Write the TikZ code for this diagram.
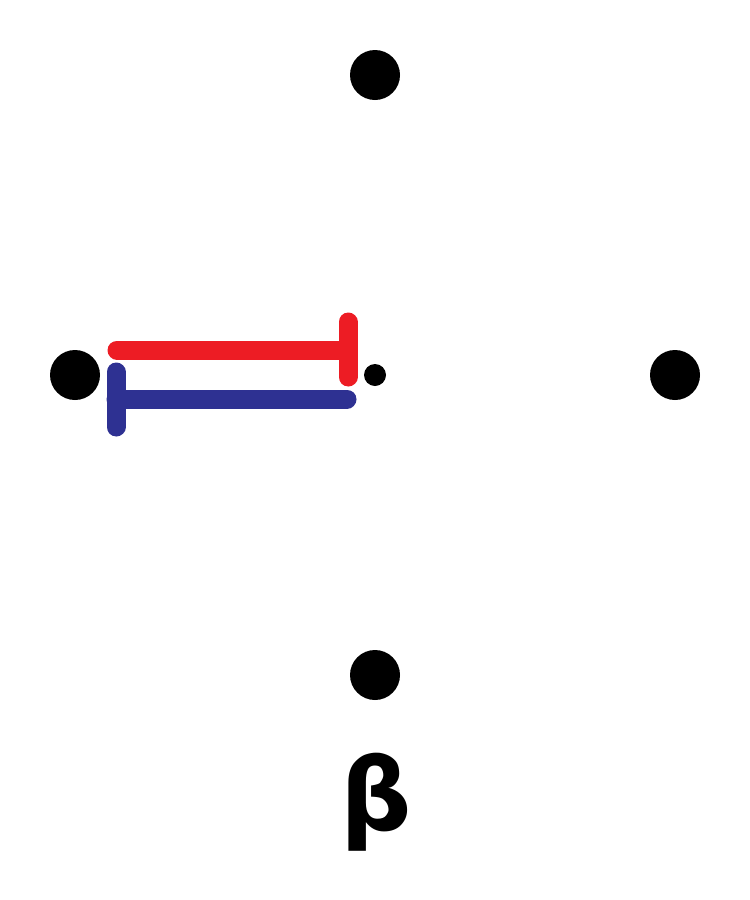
\documentclass[tikz,border=0pt]{standalone}
\usepackage{fontspec}
\newfontfamily\betafont{DejaVu Sans}
\definecolor{myred}{HTML}{ED1C24}
\definecolor{myblue}{HTML}{2E3192}
\begin{document}
\begin{tikzpicture}[x=1pt,y=-1pt,
  bigdot/.style={circle,fill=black,minimum size=50pt,inner sep=0pt},
  smalldot/.style={circle,fill=black,minimum size=22pt,inner sep=0pt},
  bar/.style={line width=19pt,line cap=round}]
\useasboundingbox (0,0) rectangle (750,900);
\node[bigdot] (top) at (375,75) {};
\node[bigdot] (left) at (75,375) {};
\node[bigdot] (right) at (675,375) {};
\node[bigdot] (bottom) at (375,675) {};
\node[smalldot] (center) at (375,375) {};
\coordinate (r1) at (117,350);
\coordinate (r2) at (348,350);
\coordinate (r3) at (348,322);
\coordinate (r4) at (348,377);
\coordinate (b1) at (347,399);
\coordinate (b2) at (116,399);
\coordinate (b3) at (116,372);
\coordinate (b4) at (116,427);
\draw[bar,myred] (r1) -- (r2);
\draw[bar,myred] (r3) -- (r4);
\draw[bar,myblue] (b1) -- (b2);
\draw[bar,myblue] (b3) -- (b4);
\node[inner sep=0pt] (beta) at (376,802) {\betafont\bfseries\fontsize{100}{110}\selectfont β};
\end{tikzpicture}
\end{document}
